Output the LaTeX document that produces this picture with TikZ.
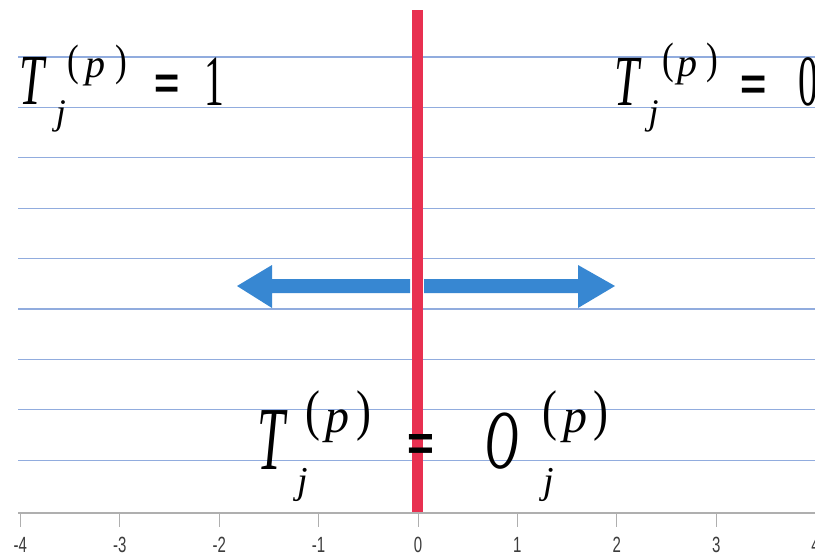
\documentclass[tikz,border=0pt]{standalone}
\usepackage{fontspec}
\newfontfamily\serifx{Liberation Serif}
\newfontfamily\sansb{Liberation Sans}
\definecolor{gridblue}{RGB}{145,172,222}
\definecolor{redbar}{RGB}{232,48,80}
\definecolor{arrowblue}{RGB}{55,135,210}
\definecolor{axisgray}{RGB}{175,175,175}
\definecolor{labgray}{RGB}{60,60,60}
\newcommand\G[3]{\scalebox{#1}[1]{\serifx\fontsize{#2}{#2}\selectfont #3}}
\newcommand\GI[3]{\scalebox{#1}[1]{\serifx\itshape\fontsize{#2}{#2}\selectfont #3}}
\newcommand\EQ[3]{\scalebox{#1}[#2]{\sansb\bfseries\fontsize{#3}{#3}\selectfont =}}
\newcommand\TL[1]{\scalebox{0.75}[1.1]{\sansb\fontsize{20}{20}\selectfont #1}}
\tikzset{
  glyph/.style={inner sep=0pt, outer sep=0pt, anchor=center},
  gridline/.style={draw=gridblue, line width=1.2pt},
  ticklab/.style={inner sep=0pt, anchor=center, text=labgray},
}
\begin{document}
\begin{tikzpicture}[x=1pt,y=-1pt]
\useasboundingbox[fill=white] (0,0) rectangle (815,560);
% horizontal blue lines
\foreach \yy in {57,107.4,157.8,208.2,258.6,309,359.4,409.8,460.2}
  \draw[gridline] (18,\yy) -- (815,\yy);
% double arrow (two halves split by the red bar)
\fill[arrowblue] (237,286) -- (272,265) -- (272,279) -- (410,279) -- (410,293) -- (272,293) -- (272,308) -- cycle;
\fill[arrowblue] (615,286) -- (578,265) -- (578,279) -- (424,279) -- (424,293) -- (578,293) -- (578,308) -- cycle;
% red vertical bar
\fill[redbar] (412,10) rectangle (423,512);
% axis
\coordinate (axL) at (18,513);
\coordinate (axR) at (815,513);
\draw[axisgray, line width=1.2pt] (axL) -- (axR);
\foreach \k in {-4,...,4} {
  \draw[axisgray, line width=1pt] ({418+99.4*\k},513) -- ({418+99.4*\k},527);
  \node[ticklab] (lab\k) at ({418+99.4*\k},545) {\TL{\k}};
}
% top-left formula
\node[glyph] (tlT) at (31.5,81) {\GI{0.62}{72}{T}};
\node[glyph] (tlpo) at (73,65) {\G{0.8}{44}{(}};
\node[glyph] (tlp) at (95.5,72.5) {\GI{1}{40}{p}};
\node[glyph] (tlpc) at (121,65) {\G{0.8}{44}{)}};
\node[glyph] (tlj) at (61,116.5) {\GI{1}{36}{j}};
\node[glyph] (tleq) at (167,86.5) {\EQ{1.2}{1.25}{36}};
\node[glyph] (tlone) at (214,81.5) {\G{0.55}{72}{1}};
% top-right formula
\node[glyph] (trT) at (627,81.5) {\GI{0.62}{72}{T}};
\node[glyph] (trpo) at (668.5,63) {\G{0.8}{44}{(}};
\node[glyph] (trp) at (687.5,71.5) {\GI{1}{40}{p}};
\node[glyph] (trpc) at (712.5,63) {\G{0.8}{44}{)}};
\node[glyph] (trj) at (653.5,116.5) {\GI{1}{36}{j}};
\node[glyph] (treq) at (754,87.5) {\EQ{1.25}{1.25}{36}};
\node[glyph] (trzero) at (808,81.5) {\G{0.55}{72}{0}};
% bottom formula
\node[glyph] (bT) at (271,440) {\GI{0.55}{90}{T}};
\node[glyph] (bpo1) at (313,416.5) {\G{0.8}{56}{(}};
\node[glyph] (bp1) at (337.5,426.5) {\GI{1}{48}{p}};
\node[glyph] (bpc1) at (364,416.5) {\G{0.8}{56}{)}};
\node[glyph] (bj1) at (302.5,485) {\GI{1}{38}{j}};
\node[glyph] (beq) at (421,447) {\EQ{1.15}{1.25}{40}};
\node[glyph] (bO) at (502,441) {\GI{0.55}{84}{O}};
\node[glyph] (bpo2) at (550,416.5) {\G{0.8}{56}{(}};
\node[glyph] (bp2) at (575,426.5) {\GI{1}{48}{p}};
\node[glyph] (bpc2) at (601,416.5) {\G{0.8}{56}{)}};
\node[glyph] (bj2) at (548.5,485) {\GI{1}{38}{j}};
\end{tikzpicture}
\end{document}
